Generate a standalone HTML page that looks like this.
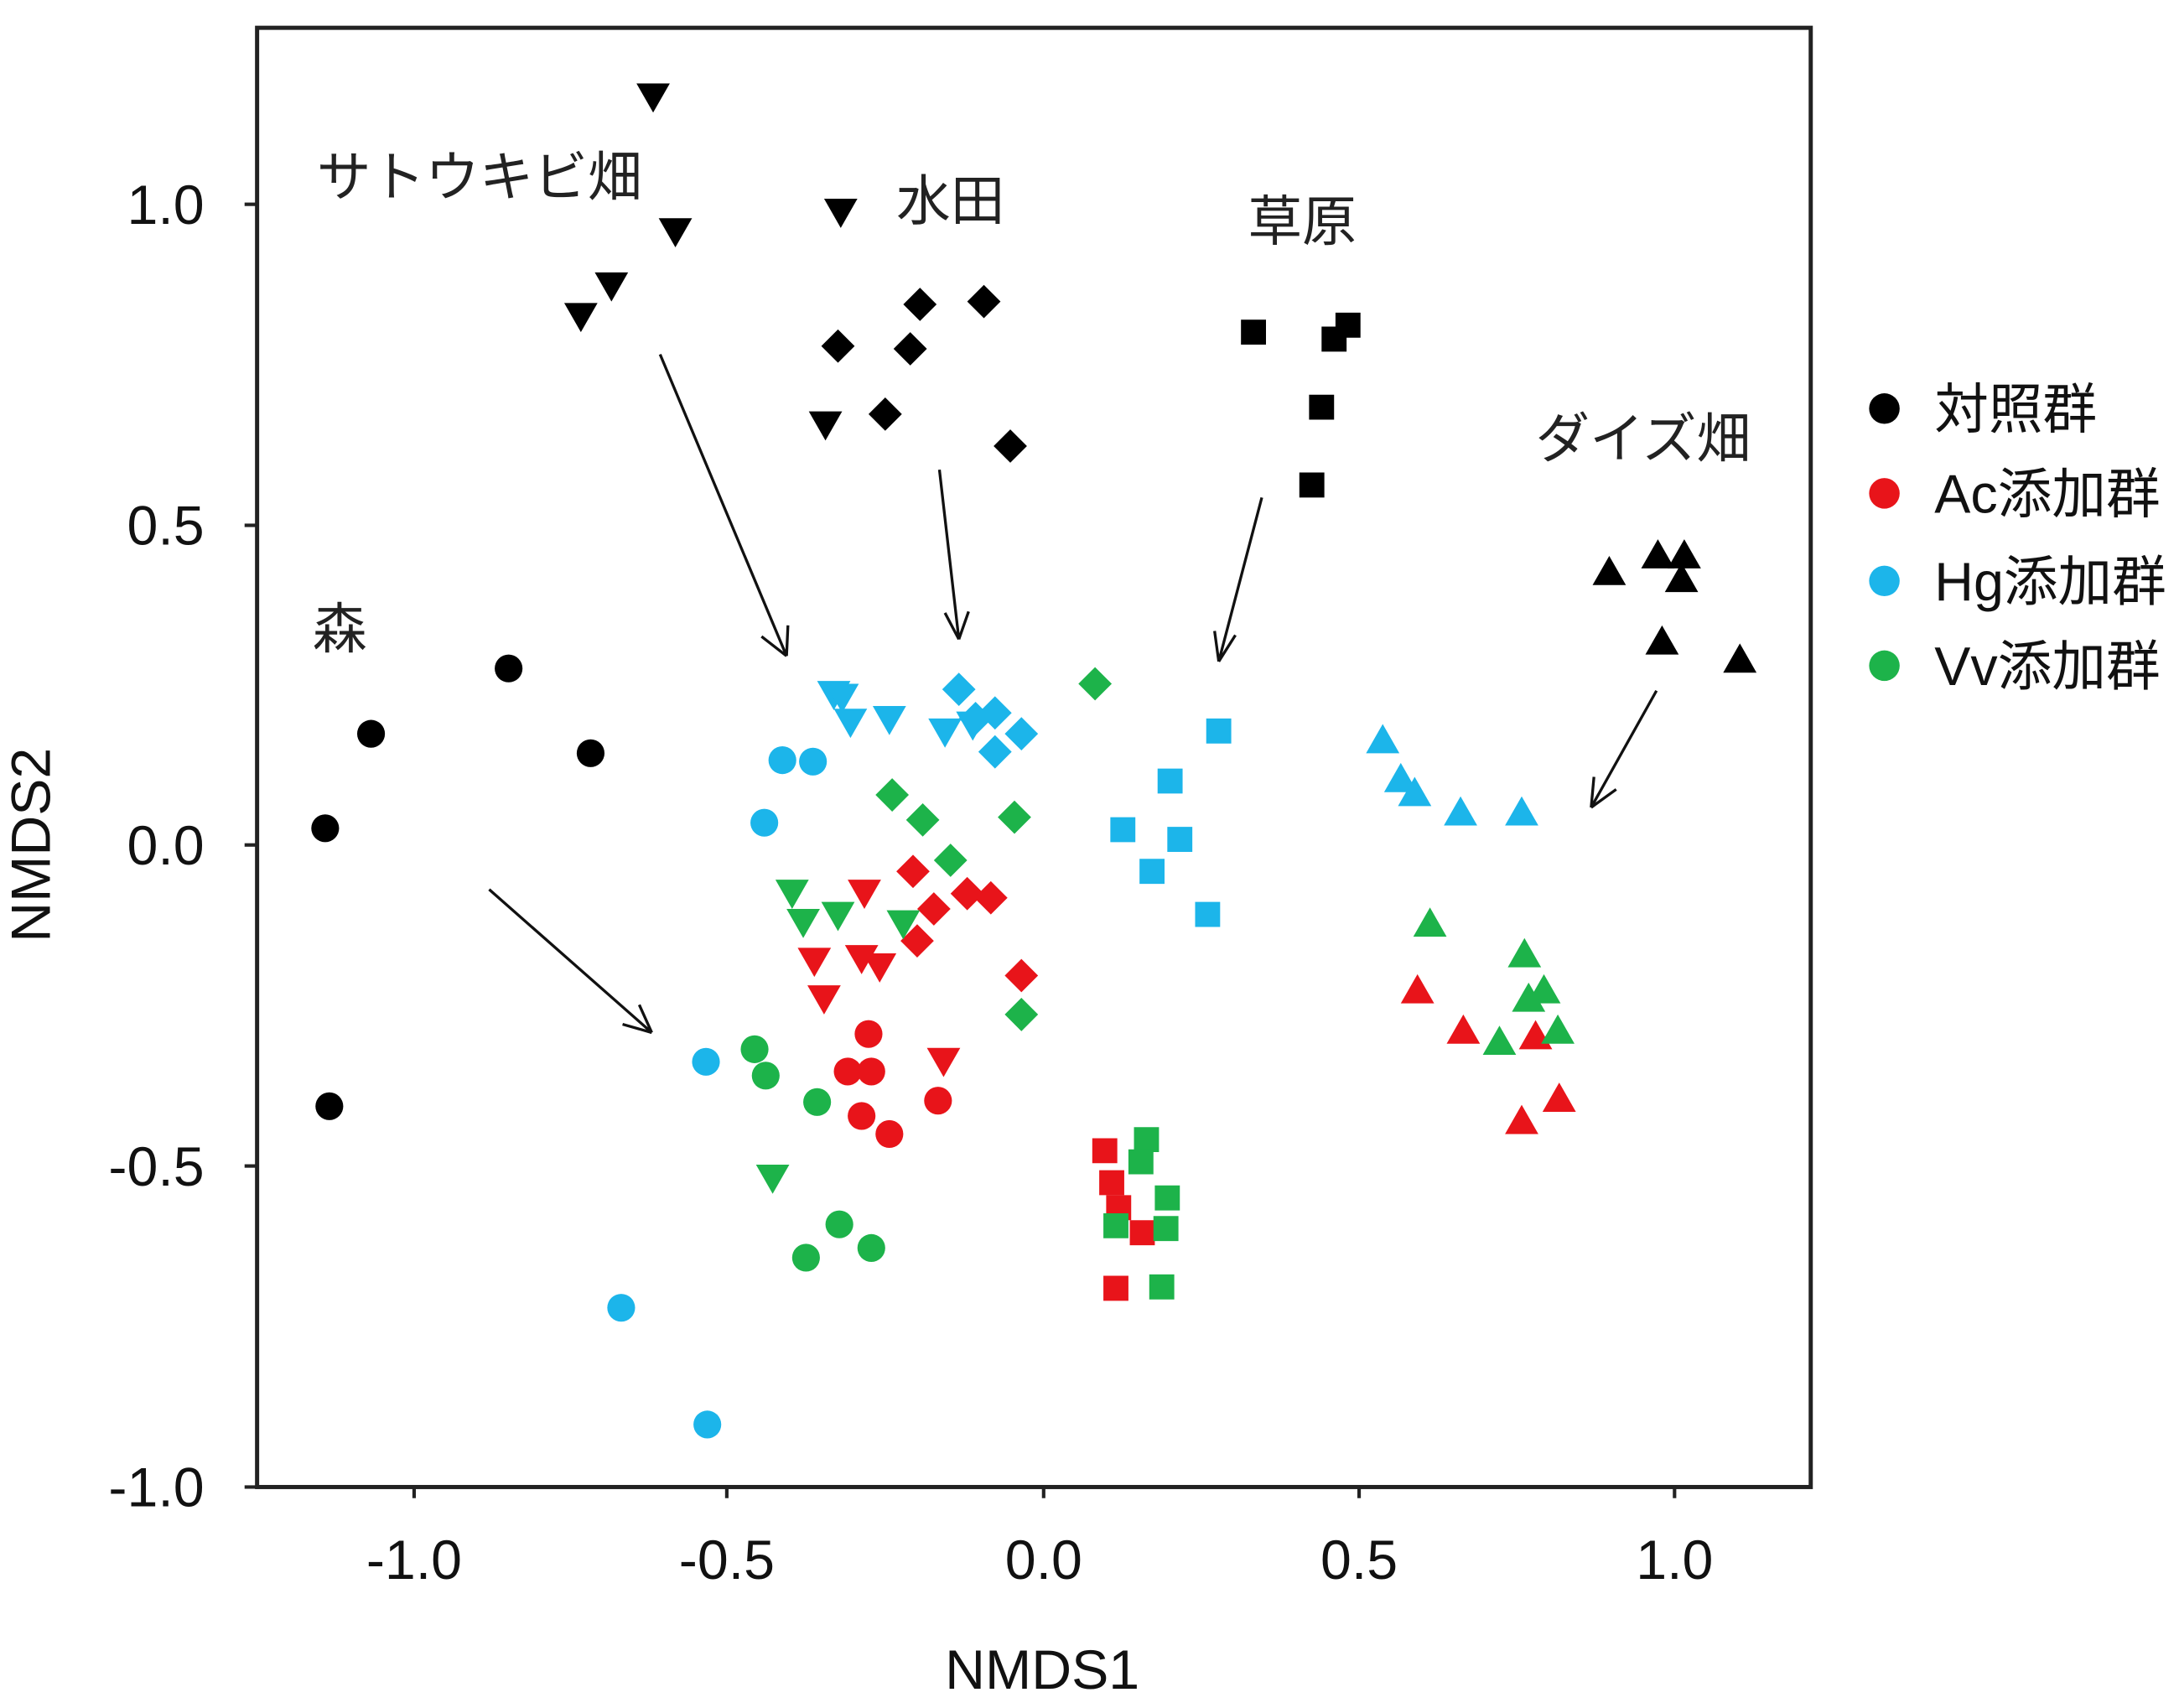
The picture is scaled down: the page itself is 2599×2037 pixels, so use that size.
<!DOCTYPE html>
<html><head><meta charset="utf-8"><style>
html,body{margin:0;padding:0;background:#fff;}
svg{display:block;}
text{font-family:"Liberation Sans","Noto Sans CJK JP",sans-serif;}
</style></head><body>
<svg width="2599" height="2037" viewBox="0 0 1568 1229" preserveAspectRatio="none" xmlns="http://www.w3.org/2000/svg">
<rect x="185" y="20" width="1118" height="1050" fill="none" stroke="#222" stroke-width="3"/>
<g stroke="#222" stroke-width="2.5">
<line x1="176" y1="147" x2="185" y2="147"/><line x1="176" y1="378" x2="185" y2="378"/><line x1="176" y1="608" x2="185" y2="608"/><line x1="176" y1="839" x2="185" y2="839"/><line x1="176" y1="1070" x2="185" y2="1070"/>
<line x1="298" y1="1070" x2="298" y2="1078"/><line x1="523" y1="1070" x2="523" y2="1078"/><line x1="751" y1="1070" x2="751" y2="1078"/><line x1="978" y1="1070" x2="978" y2="1078"/><line x1="1205" y1="1070" x2="1205" y2="1078"/>
</g>
<g font-size="40" fill="#111" text-anchor="end">
<text x="147" y="161">1.0</text><text x="147" y="392">0.5</text><text x="147" y="622">0.0</text><text x="147" y="853">-0.5</text><text x="147" y="1084">-1.0</text>
</g>
<g font-size="40" fill="#111" text-anchor="middle">
<text x="298" y="1136">-1.0</text><text x="523" y="1136">-0.5</text><text x="751" y="1136">0.0</text><text x="978" y="1136">0.5</text><text x="1205" y="1136">1.0</text>
<text x="750" y="1215">NMDS1</text>
<text transform="translate(36,608) rotate(-90)">NMDS2</text>
</g>
<g font-size="39" fill="#222">
<text x="228" y="141">サトウキビ畑</text>
<text x="645" y="158">水田</text>
<text x="898" y="173">草原</text>
<text x="1105" y="329">ダイズ畑</text>
<text x="225" y="466">森</text>
</g>
<g stroke="#111" stroke-width="2" fill="none">
<path d="M475 255 L566 472 M566 472 L548 458 M566 472 L567 450"/>
<path d="M676 338 L690 460 M690 460 L680 441 M690 460 L697 440"/>
<path d="M908 358 L877 476 M877 476 L874 454 M877 476 L889 457"/>
<path d="M1192 497 L1145 581 M1145 581 L1147 559 M1145 581 L1163 568"/>
<path d="M352 640 L469 743 M469 743 L448 737 M469 743 L460 723"/>
</g>
<script>
(function(){
var NS="http://www.w3.org/2000/svg",svg=document.currentScript.parentNode;
var cols={k:"#000",b:"#1cb5ea",r:"#e8141a",g:"#1db34a"};
function add(t,col,x,y){var e;
 if(t=="o"){e=document.createElementNS(NS,"circle");e.setAttribute("cx",x);e.setAttribute("cy",y);e.setAttribute("r",10);}
 else{e=document.createElementNS(NS,"polygon");var p;
  if(t=="s")p=[[x-9,y-9],[x+9,y-9],[x+9,y+9],[x-9,y+9]];
  if(t=="d")p=[[x,y-12],[x+12,y],[x,y+12],[x-12,y]];
  if(t=="v")p=[[x-12,y-10],[x+12,y-10],[x,y+11]];
  if(t=="^")p=[[x-12,y+10],[x+12,y+10],[x,y-11]];
  e.setAttribute("points",p.map(function(a){return a.join(",")}).join(" "));}
 e.setAttribute("fill",cols[col]);svg.appendChild(e);}
var D={
k:{o:[[267,528],[366,481],[425,542],[234,596],[237,796]],v:[[470,70],[486,167],[605,153],[440,206],[418,228],[594,306]],d:[[662,219],[708,217],[603,249],[655,251],[637,298],[727,321]],s:[[902,239],[970,234],[960,244],[951,293],[944,349]],"^":[[1158,411],[1193,399],[1212,399],[1210,416],[1196,461],[1252,474]]},
b:{o:[[563,547],[585,548],[550,592],[508,764],[447,941],[509,1025]],v:[[600,500],[612,520],[640,518],[680,527],[700,522],[606,502]],d:[[690,496],[702,517],[716,513],[735,528],[716,541]],s:[[877,526],[842,562],[808,597],[849,604],[829,627],[869,658]],"^":[[995,532],[1008,560],[1018,570],[1051,584],[1095,584]]},
r:{v:[[622,643],[586,692],[620,690],[633,696],[593,719],[679,764]],d:[[657,627],[672,654],[660,677],[696,643],[713,646],[735,702]],o:[[625,744],[610,771],[627,771],[620,803],[640,816],[675,792]],s:[[795,828],[800,851],[805,869],[822,887],[803,927]],"^":[[1020,712],[1053,741],[1105,745],[1095,806],[1122,790]]},
g:{v:[[570,643],[578,664],[603,659],[650,665],[556,848]],d:[[788,492],[642,572],[664,590],[730,588],[684,619],[735,730]],o:[[543,755],[551,774],[588,793],[604,881],[580,905],[627,898]],s:[[825,820],[821,836],[840,862],[803,882],[839,884],[836,926]],"^":[[1029,664],[1097,686],[1111,712],[1100,718],[1121,741],[1079,749]]}
};
for(var c in D)for(var t in D[c])D[c][t].forEach(function(p){add(t,c,p[0],p[1]);});
})();
</script>
<circle cx="1356" cy="294" r="11" fill="#000"/>
<circle cx="1356" cy="355" r="11" fill="#e8141a"/>
<circle cx="1356" cy="418" r="11" fill="#1cb5ea"/>
<circle cx="1356" cy="479" r="11" fill="#1db34a"/>
<g font-size="39" fill="#111">
<text x="1392" y="308">対照群</text>
<text x="1392" y="369">Ac添加群</text>
<text x="1392" y="432">Hg添加群</text>
<text x="1392" y="493">Vv添加群</text>
</g>
</svg>
</body></html>
